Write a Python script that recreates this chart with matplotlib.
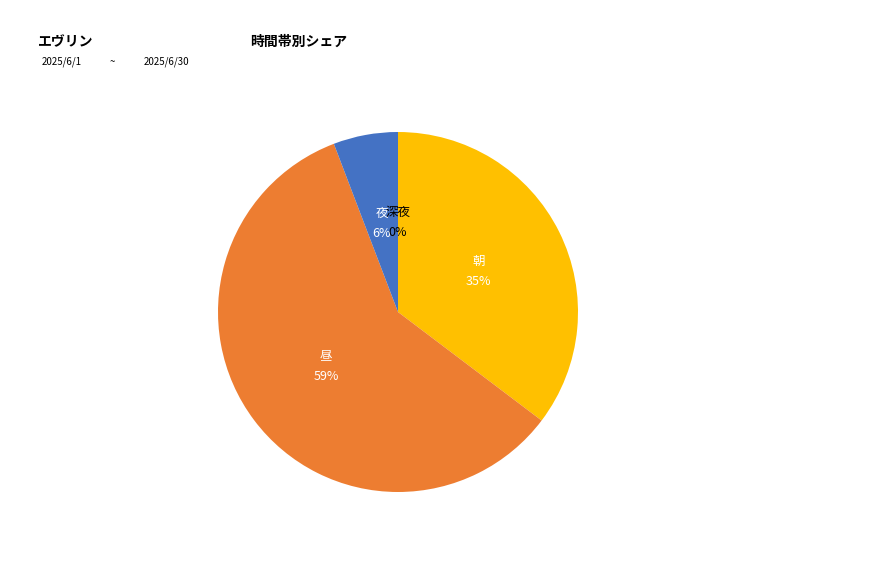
import matplotlib
matplotlib.use("Agg")
import matplotlib.pyplot as plt

plt.rcParams['font.family'] = ['Noto Sans CJK JP', 'DejaVu Sans']

# data
labels = ["朝", "昼", "夜", "深夜"]
shares = [35.3, 58.9, 5.8, 0.0]
colors = ["#FFC000", "#ED7D31", "#4472C4", "#A5A5A5"]
label_colors = ["white", "white", "white", "black"]

title_left = "エヴリン"
title_main = "時間帯別シェア"
date_from = "2025/6/1"
date_to = "2025/6/30"

fig = plt.figure(figsize=(8.77, 5.78), dpi=100)

# header
fig.text(38 / 877, 1 - 42 / 578, title_left, fontsize=10, fontweight="bold", va="center")
fig.text(250 / 877, 1 - 42 / 578, title_main, fontsize=10, fontweight="bold", va="center")
fig.text(42 / 877, 1 - 62 / 578, date_from, fontsize=7, va="center")
fig.text(110 / 877, 1 - 62 / 578, "~", fontsize=7, va="center")
fig.text(144 / 877, 1 - 62 / 578, date_to, fontsize=7, va="center")

# pie
cx, cy, r = 398, 312, 180
ax = fig.add_axes([(cx - r) / 877, 1 - (cy + r) / 578, 2 * r / 877, 2 * r / 578])
total = sum(shares)
texts = [f"{n}\n{round(v / total * 100):.0f}%" for n, v in zip(labels, shares)]
wedges, txts = ax.pie(shares, labels=texts, colors=colors, startangle=90,
                      counterclock=False, labeldistance=0.5,
                      textprops=dict(fontsize=9, ha="center", va="center",
                                     linespacing=1.7))
for t, c in zip(txts, label_colors):
    t.set_color(c)
ax.set_xlim(-1, 1)
ax.set_ylim(-1, 1)
ax.set_aspect("equal")

fig.savefig("out.png", dpi=100)
